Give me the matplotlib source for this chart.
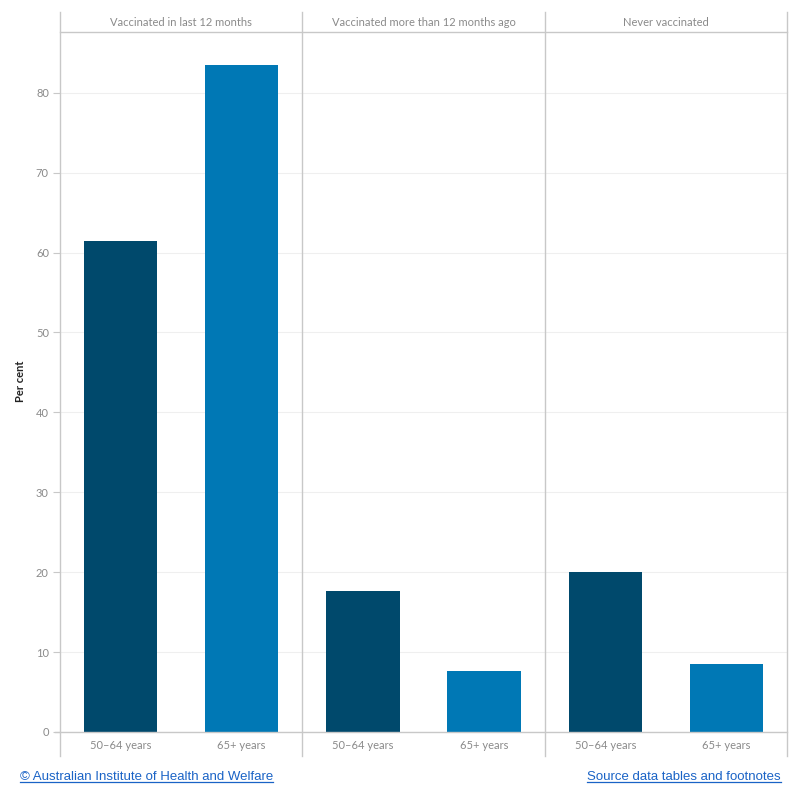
import numpy as np
import matplotlib.pyplot as plt
from matplotlib.lines import Line2D

plt.rcParams['font.family'] = ['Lato', 'DejaVu Sans']

panels = ["Vaccinated in last 12 months", "Vaccinated more than 12 months ago", "Never vaccinated"]
ages = ["50\u201364 years", "65+ years"]
values_5064 = [61.5, 17.6, 20.0]
values_65 = [83.5, 7.6, 8.5]
colors = ["#00496c", "#0078b5"]
yticks = [0, 10, 20, 30, 40, 50, 60, 70, 80]

W, H = 800, 800
fig = plt.figure(figsize=(8, 8), dpi=100)

def fx(px):
    return px / W

def fy(py):
    return 1 - py / H

edge = "#c8c8c8"
grey_txt = "#8a8a8a"
x_edges = [60, 302, 545, 787]
top_px, base_px = 32, 732

for i, name in enumerate(panels):
    ax = fig.add_axes([fx(x_edges[i]), fy(base_px), fx(x_edges[i + 1] - x_edges[i]), (base_px - top_px) / H])
    vals = [values_5064[i], values_65[i]]
    ax.bar([0, 1], vals, width=0.61, color=colors, zorder=3)
    ax.set_xlim(-0.5, 1.5)
    ax.set_ylim(0, 87.6)
    ax.set_yticks(yticks)
    ax.grid(axis="y", color="#efefef", lw=0.8, zorder=0)
    for s in ax.spines.values():
        s.set_visible(False)
    ax.set_xticks([0, 1])
    ax.set_xticklabels(ages, color=grey_txt, fontsize=8)
    ax.tick_params(axis="x", length=0, pad=6)
    if i == 0:
        ax.tick_params(axis="y", colors=edge, labelcolor=grey_txt, labelsize=8, length=5, pad=3)
    else:
        ax.tick_params(axis="y", left=False, labelleft=False)
    fig.text(fx((x_edges[i] + x_edges[i + 1]) / 2), fy(22), name, ha="center", va="center",
             fontsize=8, color=grey_txt)

fig.text(fx(21), fy(381), "Per cent", rotation=90, ha="center", va="center",
         fontsize=8, fontweight="bold", color="#222222")

# panel frame lines
for x in x_edges:
    fig.add_artist(Line2D([fx(x), fx(x)], [fy(12), fy(756)], color=edge, lw=1))
fig.add_artist(Line2D([fx(60), fx(787)], [fy(top_px), fy(top_px)], color=edge, lw=1))
fig.add_artist(Line2D([fx(55), fx(787)], [fy(base_px), fy(base_px)], color=edge, lw=1))

# footer links
link = "#1a63c6"
t1 = fig.text(fx(20), fy(777), "\u00a9 Australian Institute of Health and Welfare", ha="left", va="center",
              fontsize=9.5, color=link, family=["Liberation Sans", "DejaVu Sans"])
t2 = fig.text(fx(781), fy(777), "Source data tables and footnotes", ha="right", va="center",
              fontsize=9.5, color=link, family=["Liberation Sans", "DejaVu Sans"])
fig.canvas.draw()
r = fig.canvas.get_renderer()
for t in (t1, t2):
    bb = t.get_window_extent(r).transformed(fig.transFigure.inverted())
    fig.add_artist(Line2D([bb.x0, bb.x1], [bb.y0 + 0.001, bb.y0 + 0.001], color=link, lw=0.9))

fig.savefig("out.png", dpi=100)
